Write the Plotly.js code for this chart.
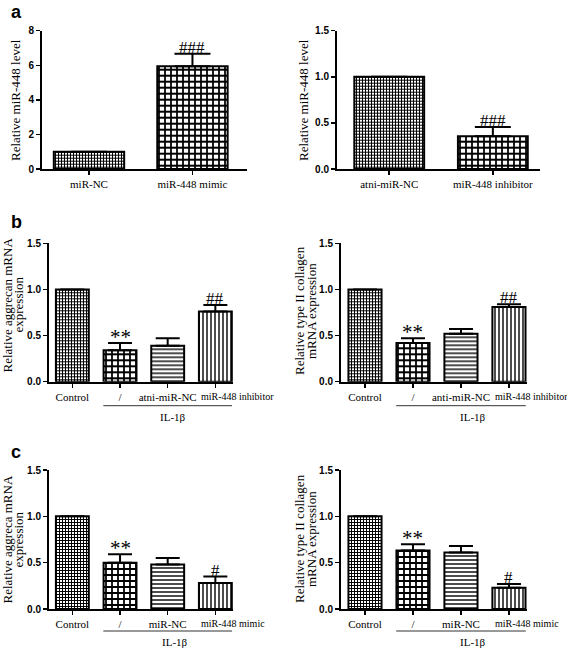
<!DOCTYPE html>
<html><head><meta charset="utf-8">
<script src="https://cdn.plot.ly/plotly-3.0.1.min.js"></script>
<style>html,body{margin:0;padding:0;background:#fff}</style>
</head><body><div id="chart" style="width:567px;height:650px"></div>
<script>
// ---- data ----
const aLeftCats = ['miR-NC', 'miR-448 mimic'];
const aLeftVals = [1.0, 5.95];
const aLeftErr  = [0, 0.72];
const aLeftSig  = ['', '###'];

const aRightCats = ['atni-miR-NC', 'miR-448 inhibitor'];
const aRightVals = [1.0, 0.355];
const aRightErr  = [0, 0.10];
const aRightSig  = ['', '###'];

const bLeftCats = ['Control', '/', 'atni-miR-NC', 'miR-448 inhibitor'];
const bLeftVals = [1.0, 0.34, 0.39, 0.76];
const bLeftErr  = [0, 0.08, 0.08, 0.07];
const bLeftSig  = ['', '**', '', '##'];

const bRightCats = ['Control', '/', 'anti-miR-NC', 'miR-448 inhibitor'];
const bRightVals = [1.0, 0.42, 0.52, 0.81];
const bRightErr  = [0, 0.05, 0.05, 0.03];
const bRightSig  = ['', '**', '', '##'];

const cLeftCats = ['Control', '/', 'miR-NC', 'miR-448 mimic'];
const cLeftVals = [1.0, 0.50, 0.48, 0.28];
const cLeftErr  = [0, 0.09, 0.07, 0.07];
const cLeftSig  = ['', '**', '', '#'];

const cRightCats = ['Control', '/', 'miR-NC', 'miR-448 mimic'];
const cRightVals = [1.0, 0.63, 0.61, 0.23];
const cRightErr  = [0, 0.07, 0.07, 0.04];
const cRightSig  = ['', '**', '', '#'];

const groupLabel = 'IL-1β';
const panelLetters = ['a', 'b', 'c'];
const yTitles = {
  aLeft: ['Relative miR-448 level'],
  aRight: ['Relative miR-448 level'],
  bLeft: ['Relative aggrecan mRNA', 'expression'],
  bRight: ['Relative type II collagen', 'mRNA expression'],
  cLeft: ['Relative aggreca mRNA', 'expression'],
  cRight: ['Relative type II collagen', 'mRNA expression']
};

// ---- styling / layout helpers ----
const W = 567, H = 650;
const px = v => v / W;
const py = v => 1 - v / H;
const SERIF = 'Liberation Serif, Times New Roman, serif';
const SANS = 'Liberation Sans, Arial, sans-serif';

const PAT = {
  fine:   {shape: '+', size: 3, solidity: 0.55},
  coarse: {shape: '+', size: 6, solidity: 0.5},
  hlines: {shape: '-', size: 4, solidity: 0.35},
  vlines: {shape: '|', size: 4, solidity: 0.35}
};

const panels = [
  {key: 'aLeft', cats: aLeftCats, vals: aLeftVals, err: aLeftErr, sig: aLeftSig,
   pats: ['fine', 'coarse'], x0: 42, x1: 247, yt: 30.7, yb: 169, yr: [0, 8], dtick: 2,
   xr: [-0.454, 1.527], bw: 0.68, cap: 18, titleX: [15], titleY: 100},
  {key: 'aRight', cats: aRightCats, vals: aRightVals, err: aRightErr, sig: aRightSig,
   pats: ['fine', 'coarse'], x0: 337, x1: 540, yt: 30.7, yb: 169, yr: [0, 1.5], dtick: 0.5,
   xr: [-0.504, 1.455], bw: 0.674, cap: 18, titleX: [303], titleY: 100},
  {key: 'bLeft', cats: bLeftCats, vals: bLeftVals, err: bLeftErr, sig: bLeftSig,
   pats: ['fine', 'coarse', 'hlines', 'vlines'], x0: 49, x1: 233, yt: 243.3, yb: 381.7, yr: [0, 1.5], dtick: 0.5,
   xr: [-0.49, 3.37], bw: 0.69, cap: 12, titleX: [6.5, 17.5], titleY: 305, group: {lineY: 405.7, labY: 416.7, labX: 2.12}},
  {key: 'bRight', cats: bRightCats, vals: bRightVals, err: bRightErr, sig: bRightSig,
   pats: ['fine', 'coarse', 'hlines', 'vlines'], x0: 341, x1: 527, yt: 243.3, yb: 381.7, yr: [0, 1.5], dtick: 0.5,
   xr: [-0.5, 3.376], bw: 0.69, cap: 12, titleX: [299, 311], titleY: 311, group: {lineY: 405.7, labY: 416.7, labX: 2.26}},
  {key: 'cLeft', cats: cLeftCats, vals: cLeftVals, err: cLeftErr, sig: cLeftSig,
   pats: ['fine', 'coarse', 'hlines', 'vlines'], x0: 49, x1: 233, yt: 470, yb: 609, yr: [0, 1.5], dtick: 0.5,
   xr: [-0.49, 3.37], bw: 0.69, cap: 12, titleX: [6.5, 17.5], titleY: 540, group: {lineY: 631, labY: 642, labX: 2.15}},
  {key: 'cRight', cats: cRightCats, vals: cRightVals, err: cRightErr, sig: cRightSig,
   pats: ['fine', 'coarse', 'hlines', 'vlines'], x0: 341, x1: 527, yt: 470, yb: 609, yr: [0, 1.5], dtick: 0.5,
   xr: [-0.5, 3.376], bw: 0.69, cap: 12, titleX: [299, 311], titleY: 539, group: {lineY: 631, labY: 642, labX: 2.26}}
];

const traces = [];
const layout = {
  width: W, height: H, margin: {l: 0, r: 0, t: 0, b: 0},
  paper_bgcolor: 'white', plot_bgcolor: 'rgba(0,0,0,0)',
  showlegend: false, bargap: 0.3,
  font: {family: SERIF, color: '#000', size: 11},
  annotations: [], shapes: []
};

panels.forEach((p, i) => {
  const n = i + 1;
  const xa = n === 1 ? 'x' : 'x' + n;
  const ya = n === 1 ? 'y' : 'y' + n;
  const xkey = n === 1 ? 'xaxis' : 'xaxis' + n;
  const ykey = n === 1 ? 'yaxis' : 'yaxis' + n;
  const multi = p.cats.length > 2;
  const last = p.cats[p.cats.length - 1];

  traces.push({
    type: 'bar', x: p.cats, y: p.vals, width: p.bw, xaxis: xa, yaxis: ya,
    marker: {
      color: 'white',
      line: {color: '#000', width: 2},
      pattern: {
        shape: p.pats.map(k => PAT[k].shape),
        size: p.pats.map(k => PAT[k].size),
        solidity: p.pats.map(k => PAT[k].solidity),
        fgcolor: '#000', bgcolor: 'white', fillmode: 'replace'
      }
    },
    error_y: {type: 'data', symmetric: false, array: p.err, arrayminus: p.err.map(() => 0),
              color: '#000', thickness: 2, width: p.cap},
    hoverinfo: 'skip'
  });

  layout[xkey] = {
    domain: [px(p.x0), px(p.x1)], anchor: ya, type: 'category',
    range: p.xr, showgrid: false, zeroline: false,
    showline: true, linecolor: '#000', linewidth: 2,
    ticks: 'outside', ticklen: 4, tickwidth: 1.5, tickcolor: '#000',
    tickvals: p.cats,
    ticktext: multi ? p.cats.map(c => c === last ? '' : c) : p.cats,
    tickfont: {family: SERIF, size: 11, color: '#000'},
    fixedrange: true
  };
  layout[ykey] = {
    domain: [py(p.yb), py(p.yt)], anchor: xa,
    range: p.yr, dtick: p.dtick, tick0: 0, tickformat: p.dtick < 1 ? '.1f' : 'd',
    showgrid: false, zeroline: false,
    showline: true, linecolor: '#000', linewidth: 2,
    ticks: 'outside', ticklen: 4, tickwidth: 1.5, tickcolor: '#000',
    tickfont: {family: SANS, size: 10, color: '#000', weight: 'bold'},
    fixedrange: true
  };

  // long last label (offset like the original)
  if (multi) {
    layout.annotations.push({
      text: last, xref: xa, yref: 'paper', x: last, y: py(p.yb + 7),
      xanchor: 'left', yanchor: 'top', xshift: -16, showarrow: false,
      font: {family: SERIF, size: 10, color: '#000'}
    });
  }

  // significance markers
  p.sig.forEach((s, j) => {
    if (!s) return;
    const star = s.indexOf('*') >= 0;
    layout.annotations.push({
      text: s, xref: xa, yref: ya, x: p.cats[j], y: p.vals[j] + p.err[j],
      xanchor: 'center', yanchor: 'bottom', yshift: star ? -8 : -5, showarrow: false,
      font: {family: SERIF, size: star ? 21 : 17, color: '#000'}
    });
  });

  // y titles
  const lines = yTitles[p.key];
  lines.forEach((t, k) => {
    layout.annotations.push({
      text: t, xref: 'paper', yref: 'paper', x: px(p.titleX[k]), y: py(p.titleY),
      xanchor: 'center', yanchor: 'middle', textangle: -90, showarrow: false,
      font: {family: SERIF, size: 13, color: '#000'}
    });
  });

  // group line + IL-1β label
  if (p.group) {
    layout.shapes.push({
      type: 'line', xref: xa, yref: 'paper',
      x0: 0.65, x1: 3.35, y0: py(p.group.lineY), y1: py(p.group.lineY),
      line: {color: '#333', width: 1}
    });
    layout.annotations.push({
      text: groupLabel, xref: xa, yref: 'paper', x: p.group.labX, y: py(p.group.labY),
      xanchor: 'center', yanchor: 'middle', showarrow: false,
      font: {family: SERIF, size: 11, color: '#000'}
    });
  }
});

// panel letters
[[16, 0], [16, 210], [16, 440]].forEach((pos, i) => {
  layout.annotations.push({
    text: panelLetters[i], xref: 'paper', yref: 'paper', x: px(pos[0]), y: py(pos[1]),
    xanchor: 'center', yanchor: 'top', showarrow: false,
    font: {family: SANS, size: 18, color: '#000', weight: 'bold'}
  });
});

Plotly.newPlot('chart', traces, layout, {displayModeBar: false, staticPlot: true});
</script>
</body></html>
